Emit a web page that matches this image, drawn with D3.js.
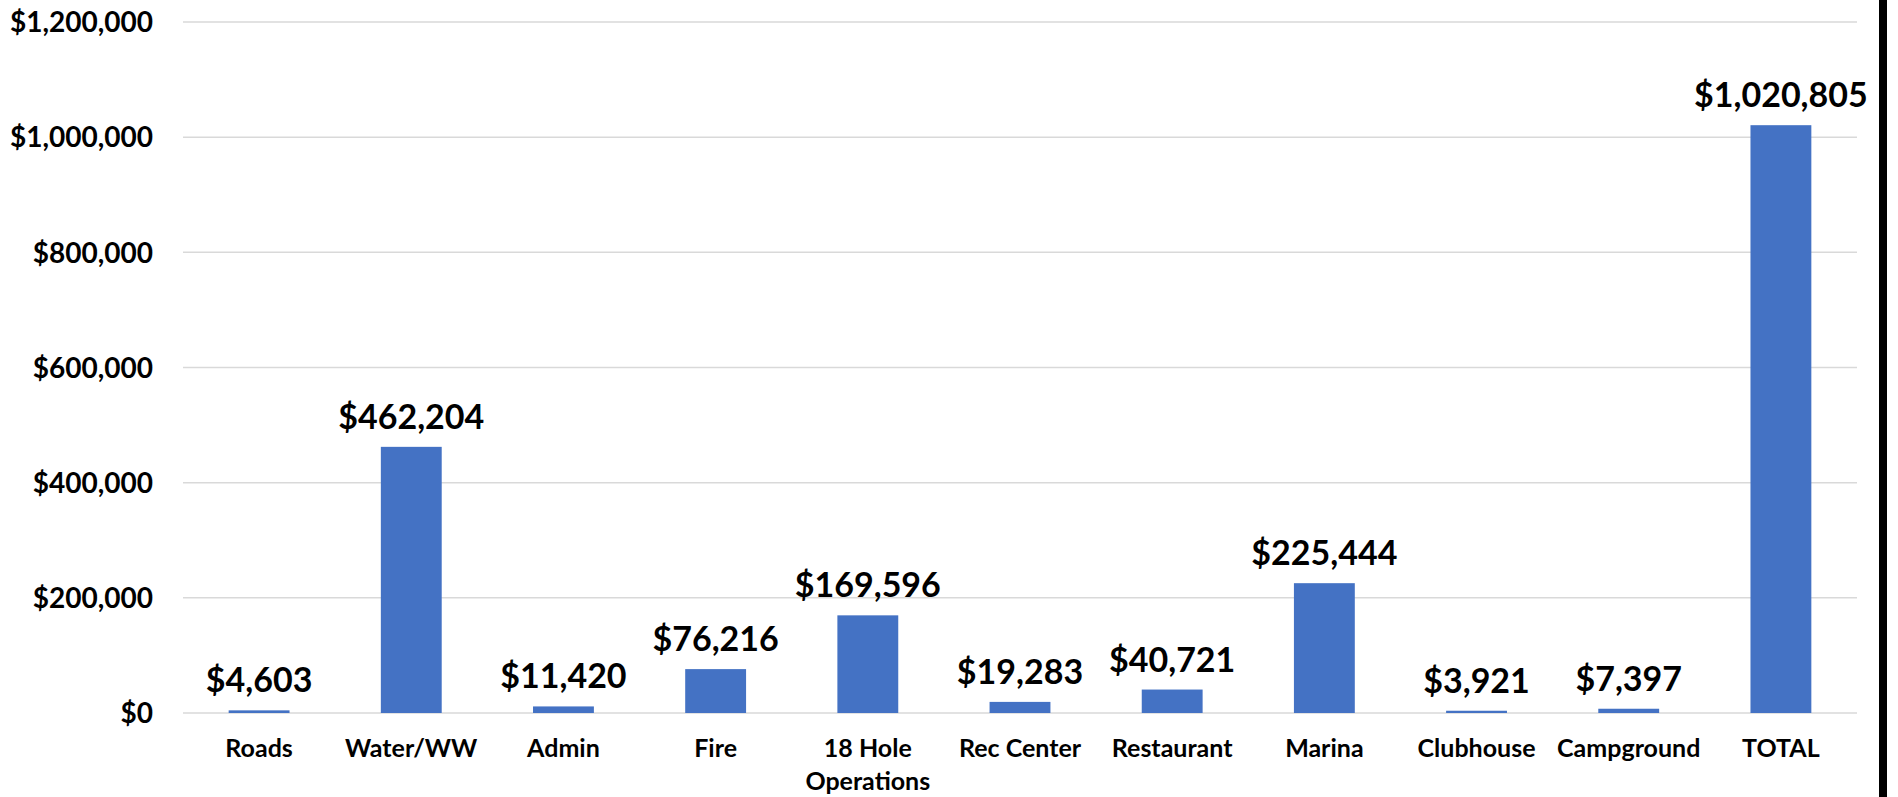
<!DOCTYPE html>
<html>
<head>
<meta charset="utf-8">
<script src="https://cdn.jsdelivr.net/npm/d3@7"></script>
<style>
  html, body { margin: 0; padding: 0; background: #fff; overflow: hidden; }
  svg { display: block; }
  text { font-family: Lato, "Noto Sans", sans-serif; font-weight: 700; fill: #000; }
</style>
</head>
<body>
<svg id="chart" width="1898" height="797"></svg>
<script>
const categories = ["Roads", "Water/WW", "Admin", "Fire", "18 Hole Operations", "Rec Center", "Restaurant", "Marina", "Clubhouse", "Campground", "TOTAL"];
const values = [4603, 462204, 11420, 76216, 169596, 19283, 40721, 225444, 3921, 7397, 1020805];
const yTicks = [0, 200000, 400000, 600000, 800000, 1000000, 1200000];

const W = 1898, H = 797;
const plot = { left: 183, right: 1857, top: 22, bottom: 713 };

const svg = d3.select("#chart");

const x = d3.scaleBand().domain(categories).range([plot.left, plot.right]).padding(0);
const y = d3.scaleLinear().domain([0, 1200000]).range([plot.bottom, plot.top]);
const money = v => "$" + d3.format(",")(v);

// gridlines
svg.append("g").selectAll("line").data(yTicks).join("line")
  .attr("x1", plot.left).attr("x2", plot.right)
  .attr("y1", d => y(d)).attr("y2", d => y(d))
  .attr("stroke", "#d9d9d9").attr("stroke-width", 1.5);

// y axis labels
const yAxis = d3.axisLeft(y).tickValues(yTicks).tickFormat(money).tickSize(0).tickPadding(0);
const gy = svg.append("g").attr("transform", `translate(153,0)`).call(yAxis);
gy.select(".domain").remove();
gy.selectAll("text").attr("font-size", 28).attr("font-family", "Lato, sans-serif").attr("font-weight", 700).attr("fill", "#000").attr("dy", "0.35em");

// bars
const barW = x.bandwidth() * 0.4;
svg.append("g").selectAll("rect").data(values).join("rect")
  .attr("x", (d, i) => x(categories[i]) + (x.bandwidth() - barW) / 2)
  .attr("width", barW)
  .attr("y", d => y(d))
  .attr("height", d => y(0) - y(d))
  .attr("fill", "#4472c4");

// data labels
svg.append("g").selectAll("text").data(values).join("text")
  .attr("x", (d, i) => x(categories[i]) + x.bandwidth() / 2)
  .attr("y", d => y(d) - 18)
  .attr("text-anchor", "middle")
  .attr("font-size", 34)
  .text(d => money(d));

// x axis labels with wrapping
const xg = svg.append("g");
categories.forEach(c => {
  const t = xg.append("text")
    .attr("x", x(c) + x.bandwidth() / 2)
    .attr("y", 757)
    .attr("text-anchor", "middle")
    .attr("font-size", 25);
  const words = c.split(" ");
  t.text(c);
  if (t.node().getComputedTextLength() > x.bandwidth() && words.length > 1) {
    t.text(null);
    let line = [], lines = [];
    words.forEach(w => {
      const test = line.concat([w]).join(" ");
      t.text(test);
      if (t.node().getComputedTextLength() > x.bandwidth() && line.length) {
        lines.push(line.join(" "));
        line = [w];
      } else line.push(w);
    });
    lines.push(line.join(" "));
    t.text(null);
    lines.forEach((l, i) => t.append("tspan").attr("x", x(c) + x.bandwidth() / 2).attr("dy", i ? 33 : 0).text(l));
  }
});

// right-hand dark border of the picture
svg.append("rect").attr("x", 1879).attr("y", 0).attr("width", 8).attr("height", H).attr("fill", "#000");
</script>
</body>
</html>
